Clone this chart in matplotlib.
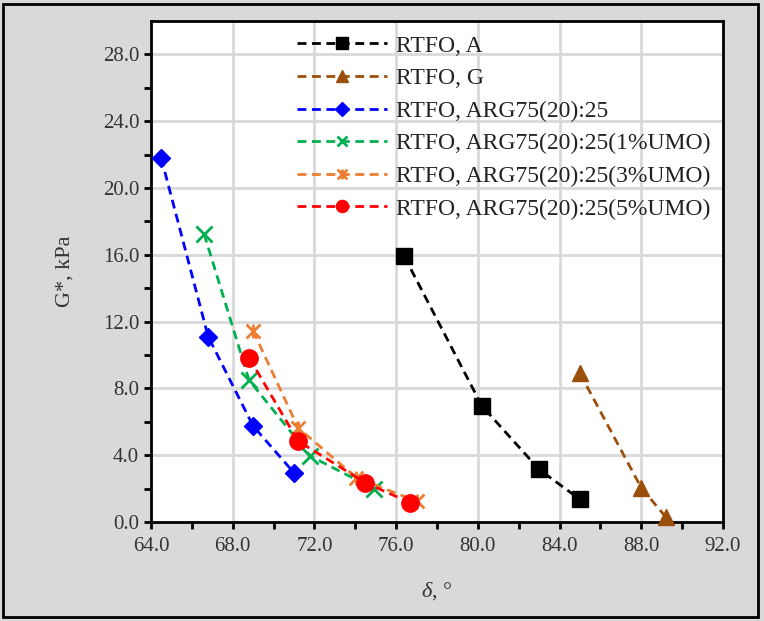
import numpy as np
import matplotlib
matplotlib.use('Agg')
import matplotlib.pyplot as plt
from matplotlib.path import Path
from matplotlib.patches import Rectangle

# data
labels = ['RTFO, A', 'RTFO, G', 'RTFO, ARG75(20):25',
          'RTFO, ARG75(20):25(1%UMO)', 'RTFO, ARG75(20):25(3%UMO)',
          'RTFO, ARG75(20):25(5%UMO)']
d_A = [76.4, 80.2, 83.0, 85.0]
g_A = [15.9, 6.95, 3.15, 1.35]
d_G = [85.0, 88.0, 89.2]
g_G = [8.9, 2.05, 0.3]
d_arg = [64.5, 66.8, 69.0, 71.0]
g_arg = [21.8, 11.1, 5.75, 2.95]
d_1 = [66.6, 68.8, 71.8, 74.9]
g_1 = [17.25, 8.5, 3.95, 2.0]
d_3 = [69.0, 71.2, 74.05, 77.0]
g_3 = [11.45, 5.65, 2.65, 1.25]
d_5 = [68.8, 71.2, 74.5, 76.7]
g_5 = [9.85, 4.85, 2.35, 1.15]

xticks = np.arange(64, 93, 4)
yticks = np.arange(0, 29, 4)

# excel-like "star" marker: x with a vertical bar
star = Path([(-1, -1), (1, 1), (-1, 1), (1, -1), (0, -1), (0, 1)],
            [Path.MOVETO, Path.LINETO, Path.MOVETO, Path.LINETO, Path.MOVETO, Path.LINETO])

plt.rcParams['font.family'] = ['Liberation Serif', 'DejaVu Serif']
plt.rcParams['mathtext.fontset'] = 'custom'
plt.rcParams['mathtext.it'] = 'Liberation Serif:italic'
plt.rcParams['mathtext.rm'] = 'Liberation Serif'

fig = plt.figure(figsize=(7.64, 6.21), dpi=100, facecolor='#d9d9d9')
ax = fig.add_axes([0.1976, 0.1594, 0.7487, 0.8068])
ax.set_facecolor('white')

dash = (3.2, 2.0)
series = [
    (d_A, g_A, 'black', 's', 12, 1),
    (d_G, g_G, '#9c4f0b', '^', 12, 1),
    (d_arg, g_arg, '#0000ff', 'D', 9.5, 1),
    (d_1, g_1, '#00b050', 'x', 11, 2),
    (d_3, g_3, '#ed7d31', star, 10, 2),
    (d_5, g_5, '#ff0000', 'o', 12.5, 1),
]
for (x, y, c, m, ms, mew), lab in zip(series, labels):
    ax.plot(x, y, color=c, linestyle=(0, dash), linewidth=2, marker=m,
            markersize=ms, markeredgewidth=mew, markerfacecolor=c,
            markeredgecolor=c, label=lab, zorder=3, clip_on=False)

ax.set_xlim(64, 92)
ax.set_ylim(0, 30)
ax.set_xticks(xticks)
ax.set_xticklabels(['{:.1f}'.format(v) for v in xticks])
ax.set_yticks(yticks)
ax.set_yticklabels(['{:.1f}'.format(v) for v in yticks])
ax.set_xticks(np.arange(66, 92, 4), minor=True)
ax.set_yticks(np.arange(2, 30, 4), minor=True)
ax.grid(True, which='major', color='#d9d9d9', linewidth=2, zorder=0)
ax.set_axisbelow(True)
ax.tick_params(which='both', direction='out', width=2, length=5,
               labelsize=15, colors='black', labelcolor='#333333')
ax.tick_params(axis='x', pad=6)
for s in ax.spines.values():
    s.set_linewidth(2)
    s.set_color('black')

ax.set_xlabel(r'$\mathit{\delta}$, °', fontsize=16, labelpad=17, color='#333333')
ax.set_ylabel('G*, kPa', fontsize=16, labelpad=20, color='#333333')

leg = ax.legend(loc='upper left', bbox_to_anchor=(0.255, 0.972), frameon=False,
                fontsize=17, handlelength=3.8, handletextpad=0.4,
                labelspacing=0.47, borderpad=0, borderaxespad=0, markerscale=0.7)
for t in leg.get_texts():
    t.set_color('#222222')

fig.patches.append(Rectangle((0.004, 0.006), 0.988, 0.988, transform=fig.transFigure,
                             fill=False, edgecolor='black', linewidth=2))

fig.savefig('out.png', dpi=100, facecolor=fig.get_facecolor())
